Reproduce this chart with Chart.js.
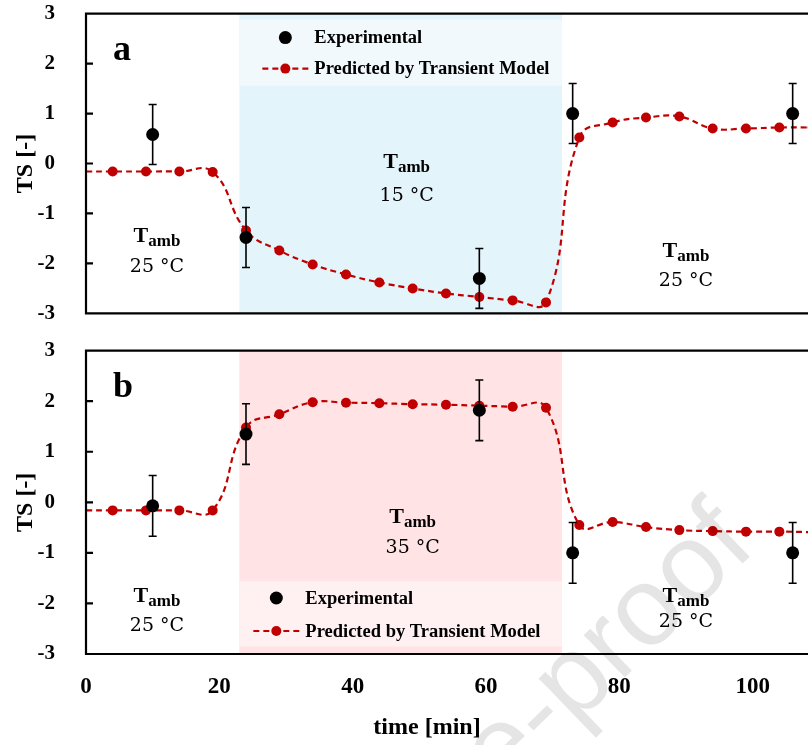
<!DOCTYPE html>
<html>
<head>
<meta charset="utf-8">
<script src="https://cdn.jsdelivr.net/npm/chart.js@4.4.1/dist/chart.umd.min.js"></script>
<style>
  html, body { margin: 0; padding: 0; background: #fff; }
  body { width: 808px; height: 745px; overflow: hidden; position: relative; }
  canvas { position: absolute; left: 0; }
  /* y tick labels reserve ~36px above/below the plot, so the canvases are shifted */
  #chart-a { top: -22px; }
  #chart-b { top: 315px; }
</style>
</head>
<body>
<canvas id="chart-a" width="900" height="371"></canvas>
<canvas id="chart-b" width="900" height="430"></canvas>
<script>
// values
var predTime = [0, 4, 9, 14, 19, 24, 29, 34, 39, 44, 49, 54, 59, 64, 69, 74, 79, 84, 89, 94, 99, 104, 109];
var predA = [-0.16, -0.16, -0.16, -0.16, -0.17, -1.34, -1.74, -2.02, -2.22, -2.38, -2.5, -2.6, -2.67, -2.74, -2.78, 0.52, 0.82, 0.92, 0.94, 0.7, 0.7, 0.72, 0.72];
var predB = [-0.16, -0.16, -0.16, -0.16, -0.16, 1.48, 1.74, 1.98, 1.97, 1.96, 1.94, 1.93, 1.91, 1.89, 1.87, -0.45, -0.39, -0.49, -0.55, -0.57, -0.58, -0.58, -0.59];
var expTime = [10, 24, 59, 73, 106];
var expA = [0.58, -1.48, -2.3, 1.0, 1.0];
var expB = [-0.07, 1.35, 1.82, -1.0, -1.0];
var errA = [0.6, 0.6, 0.6, 0.6, 0.6];
var errB = [0.6, 0.6, 0.6, 0.6, 0.6];
var xTicks = [0, 20, 40, 60, 80, 100];
var yTicks = [-3, -2, -1, 0, 1, 2, 3];
var stepWindow = [23, 71.4];   // ambient step [min]
var legendLabels = ["Experimental", "Predicted by Transient Model"];
var ambA = ["25 °C", "15 °C", "25 °C"];
var ambB = ["25 °C", "35 °C", "25 °C"];

var SERIF = "'Liberation Serif', 'Times New Roman', serif";
var RED = "#c00000";

function pts(xs, ys) {
  return xs.map(function (x, i) { return { x: x, y: ys[i] }; });
}

function drawAmb(ctx, cx, base, temp, gap) {
  ctx.fillStyle = "#000";
  ctx.textBaseline = "alphabetic";
  ctx.font = "bold 22px " + SERIF;
  var wT = ctx.measureText("T").width;
  ctx.font = "bold 17px " + SERIF;
  var wS = ctx.measureText("amb").width;
  var left = cx - (wT + wS) / 2;
  ctx.textAlign = "left";
  ctx.font = "bold 22px " + SERIF;
  ctx.fillText("T", left, base);
  ctx.font = "bold 17px " + SERIF;
  ctx.fillText("amb", left + wT, base + 4);
  ctx.font = "19px 'DejaVu Serif', serif";
  ctx.textAlign = "center";
  ctx.fillText(temp, cx, base + gap);
}

// shading, error bars, frame, legend and labels
var panelPlugin = {
  id: "panel",
  beforeDatasetsDraw: function (chart, args, o) {
    var ctx = chart.ctx, a = chart.chartArea;
    var x = chart.scales.x, y = chart.scales.y;
    var x0 = x.getPixelForValue(stepWindow[0]), x1 = x.getPixelForValue(stepWindow[1]);
    ctx.save();
    ctx.fillStyle = o.shade;
    ctx.fillRect(x0, a.top, x1 - x0, a.bottom - a.top);
    var b0 = y.getPixelForValue(o.box[0]), b1 = y.getPixelForValue(o.box[1]);
    ctx.fillStyle = o.boxColor;
    ctx.fillRect(x0, b0, x1 - x0, b1 - b0);
    ctx.restore();
  },
  beforeDatasetDraw: function (chart, args) {
    var ds = chart.data.datasets[args.index];
    if (!ds.errors) return;
    var ctx = chart.ctx, y = chart.scales.y;
    var meta = chart.getDatasetMeta(args.index);
    ctx.save();
    ctx.strokeStyle = "#000";
    ctx.lineWidth = 1.6;
    meta.data.forEach(function (p, i) {
      var v = ds.data[i].y, e = ds.errors[i];
      var top = y.getPixelForValue(v + e), bot = y.getPixelForValue(v - e);
      ctx.beginPath();
      ctx.moveTo(p.x, top); ctx.lineTo(p.x, bot);
      ctx.moveTo(p.x - 4, top); ctx.lineTo(p.x + 4, top);
      ctx.moveTo(p.x - 4, bot); ctx.lineTo(p.x + 4, bot);
      ctx.stroke();
    });
    ctx.restore();
  },
  afterDatasetsDraw: function (chart, args, o) {
    var ctx = chart.ctx, a = chart.chartArea;
    var x = chart.scales.x, y = chart.scales.y;
    ctx.save();

    // frame + inside ticks
    ctx.strokeStyle = "#000";
    ctx.lineWidth = 2.2;
    ctx.beginPath();
    ctx.moveTo(a.right + 20, a.top); ctx.lineTo(a.left, a.top);
    ctx.lineTo(a.left, a.bottom); ctx.lineTo(a.right + 20, a.bottom);
    yTicks.forEach(function (v) {
      var py = y.getPixelForValue(v);
      ctx.moveTo(a.left, py); ctx.lineTo(a.left + 7, py);
    });
    ctx.stroke();

    // legend
    var exp = chart.data.datasets[0], pred = chart.data.datasets[1];
    var lx = x.getPixelForValue(stepWindow[0]);
    var r1 = o.legendFromBottom ? a.bottom - o.legendRows[0] : a.top + o.legendRows[0];
    var r2 = o.legendFromBottom ? a.bottom - o.legendRows[1] : a.top + o.legendRows[1];
    var dx = lx + o.legendDot;
    ctx.fillStyle = exp.pointBackgroundColor;
    ctx.beginPath(); ctx.arc(dx, r1, exp.pointRadius, 0, Math.PI * 2); ctx.fill();
    ctx.strokeStyle = pred.borderColor;
    ctx.lineWidth = pred.borderWidth;
    ctx.setLineDash(pred.borderDash);
    ctx.beginPath(); ctx.moveTo(dx - 23, r2); ctx.lineTo(dx + 27, r2); ctx.stroke();
    ctx.setLineDash([]);
    ctx.fillStyle = pred.pointBackgroundColor;
    ctx.beginPath(); ctx.arc(dx, r2, 5, 0, Math.PI * 2); ctx.fill();
    ctx.fillStyle = "#000";
    ctx.font = "bold 18.5px " + SERIF;
    ctx.textAlign = "left";
    ctx.textBaseline = "middle";
    ctx.fillText(exp.label, dx + 29, r1 + 1);
    ctx.fillText(pred.label, dx + 29, r2 + 1);

    // panel letter
    ctx.font = "bold 36px " + SERIF;
    ctx.textBaseline = "alphabetic";
    ctx.fillText(o.letter, a.left + 27, a.top + 46);

    // T_amb notes
    o.notes.forEach(function (n, i) {
      drawAmb(ctx, x.getPixelForValue(n.t), y.getPixelForValue(n.v), o.temps[i], n.gap || 30);
    });

    // axis titles
    ctx.save();
    ctx.translate(26, (a.top + a.bottom) / 2);
    ctx.rotate(-Math.PI / 2);
    ctx.font = "bold 24px " + SERIF;
    ctx.textAlign = "center";
    ctx.textBaseline = "middle";
    ctx.fillText("TS [-]", 0, 0);
    ctx.restore();

    if (o.xTitle) {
      ctx.font = "bold 24px " + SERIF;
      ctx.textAlign = "center";
      ctx.textBaseline = "alphabetic";
      ctx.fillText(o.xTitle, 427, a.bottom + 80);
    }

    if (o.watermark) {
      ctx.save();
      ctx.translate(758, a.bottom - 105);
      ctx.rotate(-44 * Math.PI / 180);
      ctx.font = "112px 'Liberation Sans', Arial, sans-serif";
      ctx.fillStyle = "rgba(0,0,0,0.1)";
      ctx.textAlign = "right";
      ctx.textBaseline = "alphabetic";
      ctx.fillText(o.watermark, 0, 0);
      ctx.restore();
    }
    ctx.restore();
  }
};

function makeChart(id, pred, exp, err, withX, panel) {
  var options = {
    responsive: false,
    animation: false,
    events: [],
    layout: { padding: { left: 0, right: 14, top: 0, bottom: 0 }, autoPadding: false },
    plugins: { legend: { display: false }, tooltip: { enabled: false }, panel: panel },
    scales: {
      x: {
        type: "linear",
        min: 0,
        max: 120,
        display: withX,
        grid: { display: false },
        border: { display: false },
        afterBuildTicks: function (s) { s.ticks = xTicks.map(function (v) { return { value: v }; }); },
        afterFit: function (s) { if (withX) s.height = 91; },
        ticks: { color: "#000", padding: 11, maxRotation: 0, font: { family: SERIF, size: 23, weight: "bold" } }
      },
      y: {
        min: -3,
        max: 3,
        grid: { display: false },
        border: { display: false },
        afterBuildTicks: function (s) { s.ticks = yTicks.map(function (v) { return { value: v }; }); },
        afterFit: function (s) { s.width = 86; },
        ticks: { color: "#000", padding: 23, font: { family: SERIF, size: 21, weight: "bold" } }
      }
    }
  };
  return new Chart(document.getElementById(id), {
    type: "line",
    data: {
      datasets: [
        {
          label: legendLabels[0],
          data: pts(expTime, exp),
          errors: err,
          showLine: false,
          pointRadius: 6.5,
          pointBackgroundColor: "#000",
          pointBorderWidth: 0
        },
        {
          label: legendLabels[1],
          data: pts(predTime, pred),
          borderColor: RED,
          borderWidth: 2.2,
          borderDash: [6, 4],
          tension: 0.45,
          fill: false,
          pointRadius: function (c) { return c.dataIndex === 0 ? 0 : 5; },
          pointBackgroundColor: RED,
          pointBorderWidth: 0
        }
      ]
    },
    options: options,
    plugins: [panelPlugin]
  });
}

// a - cold step
makeChart("chart-a", predA, expA, errA, false, {
  letter: "a",
  shade: "#e4f4fb",
  boxColor: "#f1f9fd",
  box: [2.88, 1.56],
  legendRows: [24, 55],
  legendDot: 46,
  temps: ambA,
  notes: [{ t: 10.65, v: -1.58 }, { t: 48.1, v: -0.1, gap: 33 }, { t: 90, v: -1.88, gap: 29 }]
});

// b - hot step
makeChart("chart-b", predB, expB, errB, true, {
  letter: "b",
  shade: "#ffe3e5",
  boxColor: "#fff1f2",
  box: [-1.56, -2.85],
  legendRows: [56, 23],
  legendFromBottom: true,
  legendDot: 37,
  temps: ambB,
  notes: [{ t: 10.65, v: -1.98, gap: 29 }, { t: 49, v: -0.4 }, { t: 90, v: -1.98, gap: 25 }],
  xTitle: "time [min]",
  watermark: "Journal Pre-proof"
});
</script>
</body>
</html>
